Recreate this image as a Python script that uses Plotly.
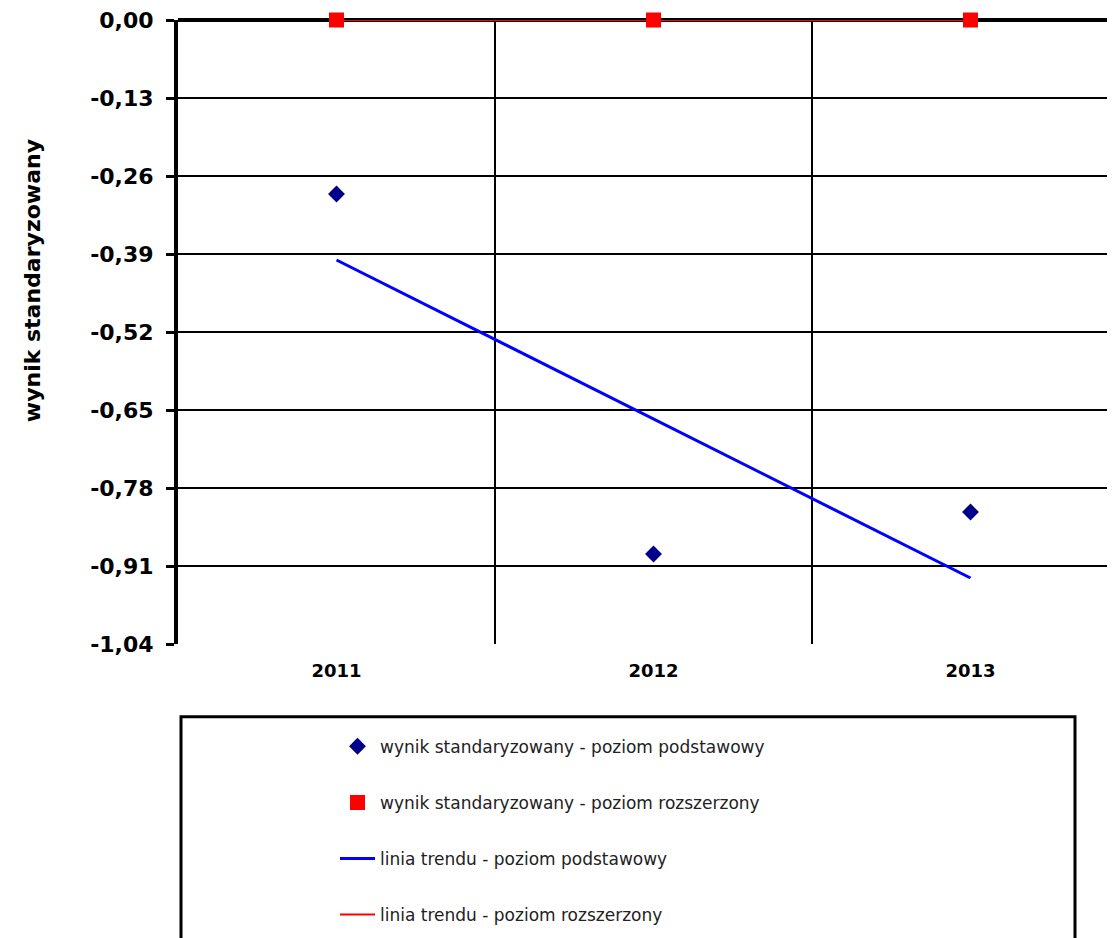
import plotly.graph_objects as go

# ---- data ----
years = ["2011", "2012", "2013"]
basic_scores = [-0.29, -0.89, -0.82]          # wynik standaryzowany - poziom podstawowy
extended_scores = [0.00, 0.00, 0.00]          # wynik standaryzowany - poziom rozszerzony
trend_basic = [-0.40, -0.665, -0.93]          # linia trendu - poziom podstawowy
trend_extended = [0.00, 0.00, 0.00]           # linia trendu - poziom rozszerzony
y_ticks = [0.00, -0.13, -0.26, -0.39, -0.52, -0.65, -0.78, -0.91, -1.04]
y_tick_labels = ["0,00", "-0,13", "-0,26", "-0,39", "-0,52", "-0,65", "-0,78", "-0,91", "-1,04"]

# ---- layout constants (page pixels) ----
PAGE_W, PAGE_H = 1115, 938
BODY = 8                      # default body margin of the html page
PLOT_L, PLOT_T, PLOT_B, PLOT_R = 178, 18, 644, 1115
CAT_W = 317                   # pixel width of one category

W, H = PAGE_W - BODY, PAGE_H - BODY
PW = PLOT_R - PLOT_L
PH = PLOT_B - PLOT_T


def px_x(p):
    return (p - PLOT_L) / PW


def px_y(p):
    return (PLOT_B - p) / PH


FONT = "DejaVu Sans"

fig = go.Figure()

fig.add_trace(go.Scatter(
    x=years, y=trend_basic, mode="lines",
    name="linia trendu - poziom podstawowy",
    line=dict(color="#0000FF", width=3),
    legendgroup="c", legendrank=3, cliponaxis=False,
))
fig.add_trace(go.Scatter(
    x=years, y=trend_extended, mode="lines",
    name="linia trendu - poziom rozszerzony",
    line=dict(color="#FF0000", width=2),
    legendgroup="d", legendrank=4, cliponaxis=False,
))
fig.add_trace(go.Scatter(
    x=years, y=basic_scores, mode="markers",
    name="wynik standaryzowany - poziom podstawowy",
    marker=dict(symbol="diamond", color="#00008B", size=13),
    legendgroup="a", legendrank=1, cliponaxis=False,
))
fig.add_trace(go.Scatter(
    x=years, y=extended_scores, mode="markers",
    name="wynik standaryzowany - poziom rozszerzony",
    marker=dict(symbol="square", color="#FF0000", size=15),
    legendgroup="b", legendrank=2, cliponaxis=False,
))

fig.update_layout(
    width=W, height=H,
    margin=dict(l=PLOT_L - BODY, r=0, t=PLOT_T - BODY, b=H - (PLOT_B - BODY), pad=0),
    paper_bgcolor="white", plot_bgcolor="white",
    showlegend=True,
    legend=dict(
        x=px_x(335), y=px_y(729), xanchor="left", yanchor="top",
        bgcolor="rgba(0,0,0,0)", borderwidth=0,
        font=dict(family=FONT, size=17, color="#222222"),
        tracegroupgap=31, traceorder="grouped", itemwidth=35,
    ),
    xaxis=dict(
        type="category", range=[-0.5, -0.5 + PW / CAT_W],
        tickson="boundaries", showgrid=True, gridcolor="black", gridwidth=2,
        showline=False, zeroline=False, ticks="",
        tickfont=dict(family=FONT, size=18, color="black", weight="bold"),
        ticklabelstandoff=14,
    ),
    yaxis=dict(
        range=[-1.04, 0.0], tickvals=y_ticks, ticktext=y_tick_labels,
        showgrid=True, gridcolor="black", gridwidth=2,
        zeroline=True, zerolinecolor="black", zerolinewidth=4,
        showline=True, linecolor="black", linewidth=4,
        ticks="outside", ticklen=8, tickwidth=3, tickcolor="black",
        tickfont=dict(family=FONT, size=22, color="black", weight="bold"),
        ticklabelstandoff=8, ticklabeloverflow="allow",
    ),
    annotations=[dict(
        text="wynik standaryzowany", textangle=-90,
        xref="paper", yref="paper", x=px_x(32), y=px_y(280),
        xanchor="center", yanchor="middle", showarrow=False,
        font=dict(family=FONT, size=22, color="black", weight="bold"),
    )],
    shapes=[dict(
        type="rect", xref="paper", yref="paper",
        x0=px_x(181), x1=px_x(1075), y0=px_y(717), y1=px_y(960),
        line=dict(color="black", width=3), fillcolor="rgba(0,0,0,0)",
    )],
)

fig.write_html("out.html")
